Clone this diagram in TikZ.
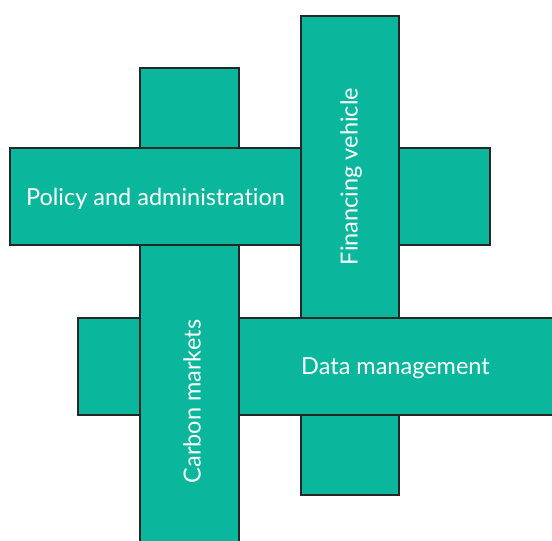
\documentclass[tikz,border=0pt]{standalone}
\usepackage{fontspec}
\setmainfont[Ligatures={NoCommon}]{Lato}
\definecolor{teal1}{RGB}{11,183,156}
\begin{document}
\begin{tikzpicture}[x=1pt,y=-1pt,
  bar/.style={fill=teal1,draw=black!85,line width=1.3pt},
  lbl/.style={text=white,font=\fontsize{23.5}{28}\selectfont,inner sep=0pt}]
\useasboundingbox (0,0) rectangle (552,541);
\path[bar] (140,68) rectangle (239,560);
\path[bar] (10,148) rectangle (490,245);
\path[bar] (301,16) rectangle (399,495);
\path[bar] (78,318) rectangle (570,415);
\begin{scope}
  \clip (120,316) rectangle (260,417);
  \path[bar] (140,68) rectangle (239,560);
\end{scope}
\node[lbl] (policy) at (155.5,198.5) {Policy and administration};
\node[lbl,rotate=90] (fin) at (351,176.5) {Financing vehicle};
\node[lbl] (data) at (395.5,368.5) {Data management};
\node[lbl,rotate=90] (carbon) at (192,401.5) {Carbon markets};
\end{tikzpicture}
\end{document}
